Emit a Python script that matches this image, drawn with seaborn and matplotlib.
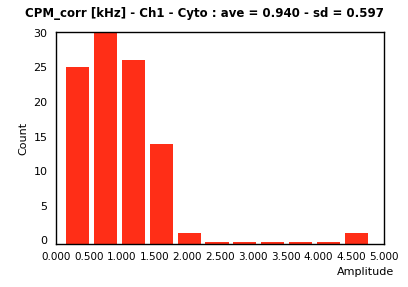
import matplotlib
matplotlib.use("Agg")
import matplotlib.pyplot as plt
import seaborn as sns
import numpy as np
import pandas as pd

sns.set_style("white")
plt.rcParams['font.family'] = ['DejaVu Sans']
plt.rcParams['text.color'] = 'black'
plt.rcParams['axes.labelcolor'] = 'black'
plt.rcParams['xtick.color'] = 'black'
plt.rcParams['ytick.color'] = 'black'

title = "CPM_corr [kHz] - Ch1 - Cyto : ave = 0.940 - sd = 0.597"
bin_centers = [0.33, 0.755, 1.18, 1.605, 2.03, 2.455, 2.88, 3.305, 3.73, 4.155, 4.58]
counts = [25, 30, 26, 14, 1, 0, 0, 0, 0, 0, 1]
xticks = [0.0, 0.5, 1.0, 1.5, 2.0, 2.5, 3.0, 3.5, 4.0, 4.5, 5.0]
yticks = [0, 5, 10, 15, 20, 25, 30]

df = pd.DataFrame({"center": bin_centers, "count": counts})

fig = plt.figure(figsize=(4.08, 2.87), dpi=100)
ax = fig.add_axes([0.137, 0.151, 0.804, 0.736])
color = "#FF2E17"
ybot = -0.47
sns.barplot(data=df, x="center", y="count", native_scale=True, width=0.83,
            color=color, saturation=1, linewidth=0, ax=ax)
# bars rise from the bottom of the plot area; empty bins show as a thin line
for p in ax.patches:
    h = p.get_height()
    p.set_y(ybot)
    p.set_height(h - ybot if h > 0 else 0.2)

ax.set_xlim(0, 5)
ax.set_ylim(ybot, 30.05)
ax.set_xticks(xticks)
ax.set_xticklabels([f"{v:.3f}" for v in xticks], fontsize=7.5)
ax.set_yticks(yticks)
ax.set_yticklabels([str(v) for v in yticks], fontsize=8)
ax.tick_params(direction="out", length=4, width=1, color="black", pad=2)
for s in ax.spines.values():
    s.set_color("black")
    s.set_linewidth(1)
ax.set_xlabel("")
ax.set_ylabel("Count", fontsize=8, labelpad=4)
fig.text(0.967, 0.035, "Amplitude", ha="right", va="bottom", fontsize=8)
fig.text(0.5, 0.975, title, ha="center", va="top", fontsize=8.5, fontweight="bold")

fig.savefig("out.png", dpi=100)
